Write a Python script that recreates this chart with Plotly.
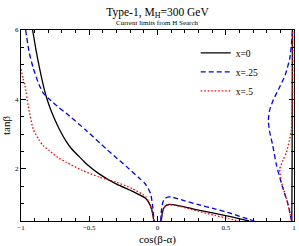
import plotly.graph_objects as go

# x = 0 (black solid)
x0_left_c = [-0.915, -0.89, -0.86, -0.83, -0.81, -0.78, -0.75, -0.72, -0.67, -0.63, -0.55, -0.52, -0.425, -0.30, -0.185, -0.135, -0.086, -0.062, -0.045, -0.035, -0.027]
x0_left_t = [6.0, 5.42, 4.82, 4.3, 4.02, 3.68, 3.4, 3.15, 2.8, 2.58, 2.26, 2.14, 1.85, 1.56, 1.36, 1.26, 1.15, 1.02, 0.86, 0.7, 0.5]
x0_mid_c = [0.027, 0.035, 0.045, 0.06, 0.084, 0.13, 0.205, 0.30, 0.42, 0.544, 0.62, 0.67]
x0_mid_t = [0.5, 0.72, 0.86, 0.94, 0.98, 0.96, 0.9, 0.81, 0.72, 0.62, 0.55, 0.5]
x0_right_c = [0.984, 0.986, 0.988]
x0_right_t = [0.5, 2.0, 6.0]

# x = .25 (blue dashed)
x25_left_c = [-0.966, -0.94, -0.91, -0.87, -0.838, -0.79, -0.72, -0.668, -0.52, -0.377, -0.304, -0.231, -0.135, -0.086, -0.05, -0.035, -0.025]
x25_left_t = [6.0, 5.35, 4.9, 4.45, 4.19, 4.0, 3.76, 3.6, 3.1, 2.58, 2.33, 2.08, 1.74, 1.55, 1.28, 0.9, 0.5]
x25_mid_c = [0.023, 0.03, 0.04, 0.055, 0.075, 0.1, 0.132, 0.2, 0.3, 0.42, 0.544, 0.63, 0.71]
x25_mid_t = [0.5, 0.85, 1.05, 1.15, 1.19, 1.19, 1.16, 1.08, 0.97, 0.85, 0.71, 0.6, 0.5]
x25_right_c = [0.982, 0.955, 0.918, 0.872, 0.843, 0.82, 0.812, 0.822, 0.85, 0.888, 0.935, 0.97, 0.99]
x25_right_t = [0.5, 1.0, 1.45, 2.1, 2.7, 3.1, 3.4, 3.7, 4.0, 4.3, 4.7, 5.2, 6.0]

# x = .5 (red dotted)
x5_left_c = [-1.0, -0.985, -0.97, -0.947, -0.91, -0.87, -0.838, -0.79, -0.73, -0.668, -0.547, -0.425, -0.304, -0.183, -0.086, -0.062, -0.045, -0.035, -0.027]
x5_left_t = [4.88, 4.6, 4.38, 3.81, 3.14, 2.85, 2.67, 2.52, 2.33, 2.19, 1.95, 1.76, 1.62, 1.43, 1.2, 1.03, 0.87, 0.7, 0.5]
x5_mid_c = [0.027, 0.035, 0.045, 0.06, 0.084, 0.13, 0.205, 0.30, 0.42, 0.52, 0.59]
x5_mid_t = [0.5, 0.72, 0.86, 0.93, 0.97, 0.95, 0.88, 0.78, 0.66, 0.57, 0.5]
x5_right_c = [0.98, 0.945, 0.908, 0.896, 0.92, 0.945, 0.965, 0.98, 0.988, 0.99, 0.99]
x5_right_t = [0.55, 1.14, 1.62, 2.0, 2.25, 2.48, 2.8, 3.1, 4.0, 5.0, 6.0]

series = [
    ("x=0", "black", "solid", [(x0_left_c, x0_left_t), (x0_mid_c, x0_mid_t), (x0_right_c, x0_right_t)]),
    ("x=.25", "#0000ff", "5px,3px", [(x25_left_c, x25_left_t), (x25_mid_c, x25_mid_t), (x25_right_c, x25_right_t)]),
    ("x=.5", "#ff0000", "1.5px,2px", [(x5_left_c, x5_left_t), (x5_mid_c, x5_mid_t), (x5_right_c, x5_right_t)]),
]

fig = go.Figure()
for name, color, dash, segs in series:
    for i, (cx, ty) in enumerate(segs):
        fig.add_trace(go.Scatter(
            x=cx, y=ty, mode="lines", name=name, legendgroup=name,
            showlegend=(i == 0),
            line=dict(color=color, width=1.3, dash=dash, shape="spline", smoothing=0.6),
        ))

serif = "Liberation Serif"
axis_common = dict(
    showline=True, linecolor="black", linewidth=1, mirror="allticks",
    ticks="inside", ticklen=5, tickcolor="black", tickwidth=1,
    showgrid=False, zeroline=False,
    tickfont=dict(family=serif, size=7, color="black"),
)
fig.update_layout(
    width=299, height=246,
    margin=dict(l=21, r=3, t=30, b=24),
    paper_bgcolor="white", plot_bgcolor="white",
    title=dict(text="Type-1, M<sub>H</sub>=300 GeV", x=0.5, xref="paper", xanchor="center",
               y=1 - 12 / 246, yref="container", yanchor="middle",
               font=dict(family=serif, size=11.5, color="black")),
    xaxis=dict(range=[-1, 1], dtick=0.5, tick0=0,
               minor=dict(dtick=0.1, ticklen=3, ticks="inside", tickcolor="black"),
               title=dict(text="cos(β-α)", font=dict(family=serif, size=11, color="black"), standoff=3),
               **axis_common),
    yaxis=dict(range=[0.5, 6], dtick=2, tick0=0,
               minor=dict(dtick=0.5, tick0=0, ticklen=3, ticks="inside", tickcolor="black"),
               title=dict(text="tanβ", font=dict(family=serif, size=11, color="black"), standoff=2),
               **axis_common),
    legend=dict(x=0.64, y=0.956, xanchor="left", yanchor="top",
                bgcolor="rgba(0,0,0,0)", font=dict(family=serif, size=9.5, color="black"),
                itemwidth=30, tracegroupgap=0),
    annotations=[dict(text="Current limits from H Search", xref="paper", yref="paper",
                      x=0.5, y=(222 - 23) / 192, xanchor="center", yanchor="middle",
                      showarrow=False, font=dict(family=serif, size=7, color="black"))],
)

fig.write_html("out.html", config={"displayModeBar": False},
               post_script="document.body.style.margin='0';document.body.style.overflow='hidden';")
